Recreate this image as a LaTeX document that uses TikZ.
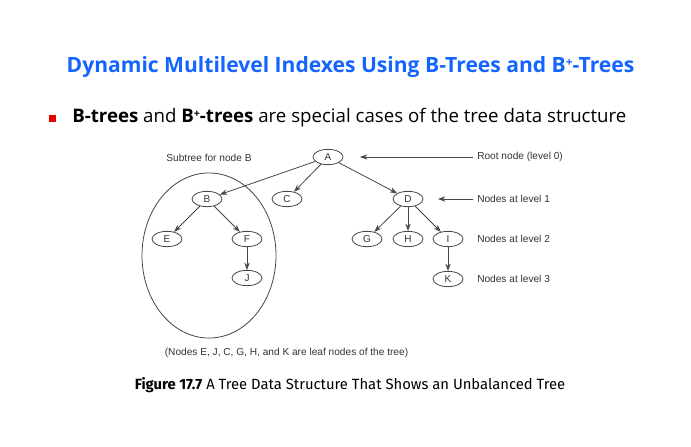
\documentclass[tikz,border=0pt]{standalone}
\usepackage{fontspec}
\setmainfont{Open Sans}
\newfontfamily\diagfont{Liberation Sans}
\newfontfamily\capfont{Fira Sans}
\usetikzlibrary{shapes.geometric,arrows.meta}
\definecolor{titleblue}{RGB}{20,100,255}
\definecolor{bulletred}{RGB}{230,0,0}
\definecolor{linegray}{RGB}{70,70,70}
\definecolor{textgray}{RGB}{50,50,50}
\newcommand{\bplus}[1]{\raisebox{0.55ex}{\fontsize{#1}{#1}\selectfont+}}
\tikzset{
  tnode/.style={draw=linegray, line width=0.6pt, ellipse, minimum width=22.5pt, minimum height=11.5pt,
    inner sep=0pt, font=\diagfont\fontsize{7.5}{8}\selectfont, text=textgray},
  arr/.style={draw=linegray, line width=0.6pt, -{Stealth[length=5.5pt,width=4pt]}},
  lbl/.style={font=\diagfont\fontsize{7.6}{9}\selectfont, text=textgray, inner sep=3pt}
}
\begin{document}
\begin{tikzpicture}[x=0.75pt, y=-0.75pt]
    \useasboundingbox (0,0) rectangle (691,446);

    % Heading
    \node[font=\bfseries\fontsize{15.8}{19}\selectfont, text=titleblue] (title) at (350.5,67)
      {Dynamic Multilevel Indexes Using B-Trees and B\bplus{9}-Trees};
    \fill[bulletred] (49,114.5) rectangle (56,121.5);
    \node[anchor=west, inner sep=0pt, font=\fontsize{14}{17}\selectfont] (point) at (72,118)
      {\textbf{B-trees} and \textbf{B\bplus{8}-trees} are special cases of the tree data structure};

    % Tree
    \node[tnode] (A) at (328,157) {A};
    \node[tnode] (B) at (207,199) {B};
    \node[tnode] (C) at (287,199) {C};
    \node[tnode] (D) at (408,199) {D};
    \node[tnode] (E) at (167,239) {E};
    \node[tnode] (F) at (247,239) {F};
    \node[tnode] (G) at (367,239) {G};
    \node[tnode] (H) at (408,239) {H};
    \node[tnode] (I) at (448,239) {I};
    \node[tnode] (J) at (247,278) {J};
    \node[tnode] (K) at (448,279) {K};

    \draw[arr] (A) -- (B);
    \draw[arr] (A) -- (C);
    \draw[arr] (A) -- (D);
    \draw[arr] (B) -- (E);
    \draw[arr] (B) -- (F);
    \draw[arr] (F) -- (J);
    \draw[arr] (D) -- (G);
    \draw[arr] (D) -- (H);
    \draw[arr] (D) -- (I);
    \draw[arr] (I) -- (K);

    % Subtree for B
    \draw[linegray, line width=0.6pt] (209,255.5) ellipse [x radius=50.25pt, y radius=61.9pt];
    \node[lbl] (subtree) at (209,158) {Subtree for node B};

    % Levels
    \node[lbl, anchor=west] (lvl0) at (473,157) {Root node (level 0)};
    \node[lbl, anchor=west] (lvl1) at (473,199) {Nodes at level 1};
    \node[lbl, anchor=west] (lvl2) at (473,239) {Nodes at level 2};
    \node[lbl, anchor=west] (lvl3) at (473,279) {Nodes at level 3};
    \coordinate (tip0) at (360,157);
    \coordinate (tip1) at (438,199);
    \draw[arr] (lvl0.west) -- (tip0);
    \draw[arr] (lvl1.west) -- (tip1);

    \node[lbl] (leaves) at (286.5,352.5) {(Nodes E, J, C, G, H, and K are leaf nodes of the tree)};

    % Caption
    \node[font=\capfont\fontsize{11.1}{13}\selectfont] (caption) at (350,385)
      {\textbf{Figure 17.7} A Tree Data Structure That Shows an Unbalanced Tree};
\end{tikzpicture}
\end{document}
